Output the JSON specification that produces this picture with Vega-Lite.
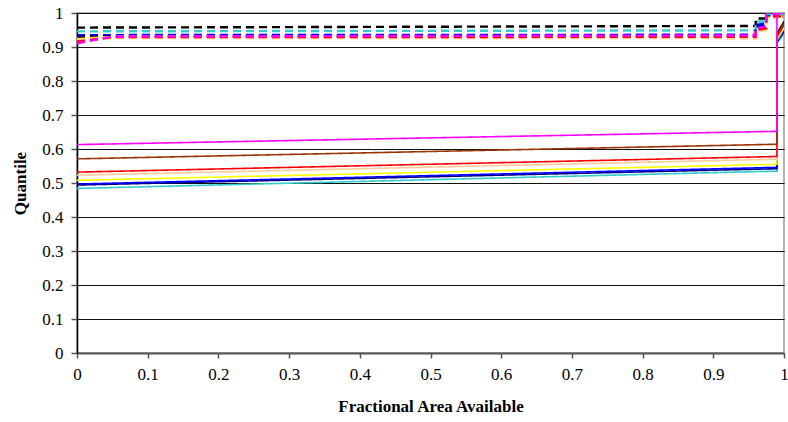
{
  "$schema": "https://vega.github.io/schema/vega-lite/v6.json",
  "width": 707,
  "height": 340,
  "autosize": {"type": "none"},
  "padding": {"left": 77, "top": 13, "right": 4, "bottom": 69},
  "background": "white",
  "config": {
    "view": {"stroke": "#999999", "strokeWidth": 1.5},
    "font": "Liberation Serif"
  },
  "data": {"values": [
    {"c":"K","t":"d","o":1,"x":0,"y":0.957},{"c":"K","t":"d","o":2,"x":0.96,"y":0.962},{"c":"K","t":"d","o":3,"x":0.96,"y":0.984},{"c":"K","t":"d","o":4,"x":0.975,"y":0.984},{"c":"K","t":"d","o":5,"x":0.975,"y":1.0},{"c":"K","t":"d","o":6,"x":1,"y":1.0},
    {"c":"C","t":"d","o":1,"x":0,"y":0.946},{"c":"C","t":"d","o":2,"x":0.96,"y":0.949},{"c":"C","t":"d","o":3,"x":0.96,"y":0.975},{"c":"C","t":"d","o":4,"x":0.975,"y":0.975},{"c":"C","t":"d","o":5,"x":0.975,"y":0.995},{"c":"C","t":"d","o":6,"x":1,"y":0.995},
    {"c":"B","t":"d","o":1,"x":0,"y":0.935},{"c":"B","t":"d","o":2,"x":0.96,"y":0.936},{"c":"B","t":"d","o":3,"x":0.96,"y":0.965},{"c":"B","t":"d","o":4,"x":0.975,"y":0.97},{"c":"B","t":"d","o":5,"x":0.975,"y":0.99},{"c":"B","t":"d","o":6,"x":1,"y":0.99},
    {"c":"N","t":"d","o":1,"x":0,"y":0.931},{"c":"N","t":"d","o":2,"x":0.96,"y":0.933},{"c":"N","t":"d","o":3,"x":0.96,"y":0.96},{"c":"N","t":"d","o":4,"x":0.975,"y":0.962},{"c":"N","t":"d","o":5,"x":0.975,"y":0.99},{"c":"N","t":"d","o":6,"x":1,"y":0.99},
    {"c":"Br","t":"d","o":1,"x":0,"y":0.926},{"c":"Br","t":"d","o":2,"x":0.05,"y":0.929},{"c":"Br","t":"d","o":3,"x":0.96,"y":0.929},{"c":"Br","t":"d","o":4,"x":0.96,"y":0.952},{"c":"Br","t":"d","o":5,"x":0.975,"y":0.955},{"c":"Br","t":"d","o":6,"x":0.975,"y":0.985},{"c":"Br","t":"d","o":7,"x":1,"y":0.99},
    {"c":"Y","t":"d","o":1,"x":0,"y":0.922},{"c":"Y","t":"d","o":2,"x":0.05,"y":0.93},{"c":"Y","t":"d","o":3,"x":0.96,"y":0.93},{"c":"Y","t":"d","o":4,"x":0.96,"y":0.95},{"c":"Y","t":"d","o":5,"x":0.975,"y":0.955},{"c":"Y","t":"d","o":6,"x":0.975,"y":0.985},{"c":"Y","t":"d","o":7,"x":1,"y":0.99},
    {"c":"P","t":"d","o":1,"x":0,"y":0.92},{"c":"P","t":"d","o":2,"x":0.05,"y":0.926},{"c":"P","t":"d","o":3,"x":0.9,"y":0.926},{"c":"P","t":"d","o":4,"x":0.96,"y":0.924},{"c":"P","t":"d","o":5,"x":0.96,"y":0.945},{"c":"P","t":"d","o":6,"x":0.975,"y":0.95},{"c":"P","t":"d","o":7,"x":0.975,"y":0.985},{"c":"P","t":"d","o":8,"x":1,"y":0.99},
    {"c":"R","t":"d","o":1,"x":0,"y":0.916},{"c":"R","t":"d","o":2,"x":0.05,"y":0.929},{"c":"R","t":"d","o":3,"x":0.96,"y":0.93},{"c":"R","t":"d","o":4,"x":0.96,"y":0.95},{"c":"R","t":"d","o":5,"x":0.975,"y":0.955},{"c":"R","t":"d","o":6,"x":0.975,"y":0.99},{"c":"R","t":"d","o":7,"x":1,"y":0.99},
    {"c":"M","t":"d","o":1,"x":0,"y":0.911},{"c":"M","t":"d","o":2,"x":0.05,"y":0.931},{"c":"M","t":"d","o":3,"x":0.96,"y":0.934},{"c":"M","t":"d","o":4,"x":0.96,"y":0.955},{"c":"M","t":"d","o":5,"x":0.975,"y":0.96},{"c":"M","t":"d","o":6,"x":0.975,"y":0.995},{"c":"M","t":"d","o":7,"x":1,"y":1.0},

    {"c":"K","t":"s","o":1,"x":0.99,"y":0.94},{"c":"K","t":"s","o":2,"x":1,"y":0.975},
    {"c":"C","t":"s","o":1,"x":0,"y":0.484},{"c":"C","t":"s","o":2,"x":0.99,"y":0.535},{"c":"C","t":"s","o":3,"x":0.99,"y":0.91},{"c":"C","t":"s","o":4,"x":1,"y":0.94},
    {"c":"N","t":"s","o":1,"x":0,"y":0.494},{"c":"N","t":"s","o":2,"x":0.99,"y":0.542},{"c":"N","t":"s","o":3,"x":0.99,"y":0.915},{"c":"N","t":"s","o":4,"x":1,"y":0.945},
    {"c":"B","t":"s","o":1,"x":0,"y":0.497},{"c":"B","t":"s","o":2,"x":0.99,"y":0.546},{"c":"B","t":"s","o":3,"x":0.99,"y":0.915},{"c":"B","t":"s","o":4,"x":1,"y":0.95},
    {"c":"Y","t":"s","o":1,"x":0,"y":0.508},{"c":"Y","t":"s","o":2,"x":0.99,"y":0.555},{"c":"Y","t":"s","o":3,"x":0.99,"y":0.92},{"c":"Y","t":"s","o":4,"x":1,"y":0.955},
    {"c":"P","t":"s","o":1,"x":0,"y":0.523},{"c":"P","t":"s","o":2,"x":0.99,"y":0.57},{"c":"P","t":"s","o":3,"x":0.99,"y":0.925},{"c":"P","t":"s","o":4,"x":1,"y":0.96},
    {"c":"R","t":"s","o":1,"x":0,"y":0.532},{"c":"R","t":"s","o":2,"x":0.99,"y":0.578},{"c":"R","t":"s","o":3,"x":0.99,"y":0.93},{"c":"R","t":"s","o":4,"x":1,"y":0.965},
    {"c":"Br","t":"s","o":1,"x":0,"y":0.571},{"c":"Br","t":"s","o":2,"x":0.99,"y":0.614},{"c":"Br","t":"s","o":3,"x":0.99,"y":0.935},{"c":"Br","t":"s","o":4,"x":1,"y":0.97},
    {"c":"M","t":"s","o":1,"x":0,"y":0.613},{"c":"M","t":"s","o":2,"x":0.99,"y":0.652},{"c":"M","t":"s","o":3,"x":0.99,"y":1.0},{"c":"M","t":"s","o":4,"x":1,"y":1.0}
  ]},
  "mark": {"type": "line", "clip": true},
  "encoding": {
    "x": {
      "field": "x", "type": "quantitative",
      "scale": {"domain": [0, 1], "nice": false, "zero": false},
      "axis": {
        "title": "Fractional Area Available",
        "titleFont": "Liberation Serif", "titleFontSize": 17, "titleFontWeight": "bold", "titleColor": "#000",
        "titlePadding": 16,
        "values": [0,0.1,0.2,0.3,0.4,0.5,0.6,0.7,0.8,0.9,1],
        "labelExpr": "datum.value === 0 ? '0' : datum.value === 1 ? '1' : format(datum.value, '.1f')",
        "labelFont": "Liberation Serif", "labelFontSize": 17, "labelColor": "#000",
        "labelPadding": 8, "labelFlush": false,
        "grid": false,
        "domainColor": "#555", "domainWidth": 2,
        "tickColor": "#555", "tickSize": 5, "tickWidth": 1.5
      }
    },
    "y": {
      "field": "y", "type": "quantitative",
      "scale": {"domain": [0, 1], "nice": false, "zero": false},
      "axis": {
        "title": "Quantile",
        "titleFont": "Liberation Serif", "titleFontSize": 17, "titleFontWeight": "bold", "titleColor": "#000",
        "titlePadding": 12,
        "values": [0,0.1,0.2,0.3,0.4,0.5,0.6,0.7,0.8,0.9,1],
        "labelExpr": "datum.value === 0 ? '0' : datum.value === 1 ? '1' : format(datum.value, '.1f')",
        "labelFont": "Liberation Serif", "labelFontSize": 17, "labelColor": "#000",
        "labelPadding": 8, "labelFlush": false,
        "grid": true, "gridColor": "#111", "gridWidth": 1.2,
        "domainColor": "#000", "domainWidth": 1.5,
        "tickColor": "#555", "tickSize": 6, "tickWidth": 1.5
      }
    },
    "color": {
      "field": "c", "type": "nominal",
      "scale": {
        "domain": ["M","Br","R","P","Y","B","N","C","K"],
        "range": ["#FF00FF","#993300","#FF0000","#FFCC99","#FFFF00","#0000FF","#000080","#33CCCC","#000000"]
      },
      "legend": null
    },
    "strokeDash": {
      "field": "t", "type": "nominal",
      "scale": {"domain": ["s","d"], "range": [[1,0],[8,5]]},
      "legend": null
    },
    "strokeWidth": {
      "field": "t", "type": "nominal",
      "scale": {"domain": ["s","d"], "range": [1.6, 2.4]},
      "legend": null
    },
    "order": {"field": "o", "type": "quantitative"}
  }
}
